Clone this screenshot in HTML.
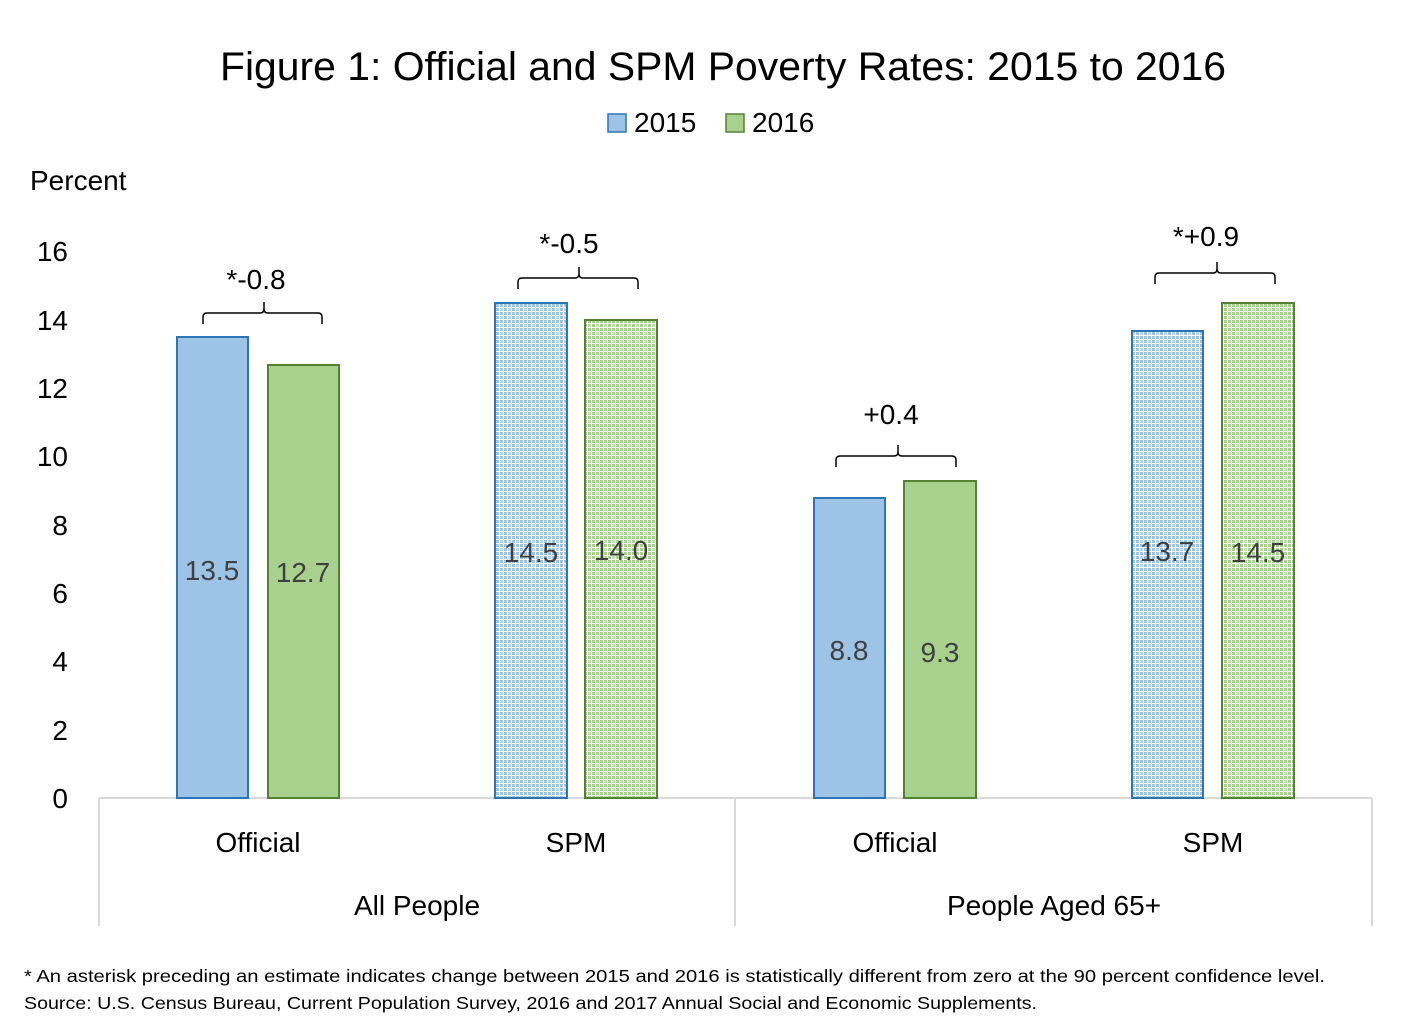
<!DOCTYPE html>
<html><head><meta charset="utf-8"><style>
body{margin:0;background:#fff;}
svg{display:block;font-family:"Liberation Sans","DejaVu Sans",sans-serif;}
</style></head><body>
<svg width="1422" height="1033" viewBox="0 0 1422 1033" xmlns="http://www.w3.org/2000/svg">
<defs>
<pattern id="pb" width="8" height="8" patternUnits="userSpaceOnUse">
<rect width="8" height="8" fill="#fff"/>
<rect x="0" y="0" width="3" height="3" fill="#9dc3e6"/>
<rect x="4" y="0" width="3" height="3" fill="#9dc3e6"/>
<rect x="0" y="4" width="3" height="3" fill="#9dc3e6"/>
<rect x="4" y="4" width="3" height="3" fill="#b8d4ee"/>
</pattern>
<pattern id="pg" width="8" height="8" patternUnits="userSpaceOnUse">
<rect width="8" height="8" fill="#fff"/>
<rect x="0" y="0" width="3" height="3" fill="#a9d18e"/>
<rect x="4" y="0" width="3" height="3" fill="#a9d18e"/>
<rect x="0" y="4" width="3" height="3" fill="#a9d18e"/>
<rect x="4" y="4" width="3" height="3" fill="#c2dfae"/>
</pattern>
</defs>
<text x="220" y="80" font-size="40" textLength="1006" lengthAdjust="spacingAndGlyphs" fill="#000">Figure 1: Official and SPM Poverty Rates: 2015 to 2016</text>
<rect x="608" y="114" width="18" height="18" fill="#9dc3e6" stroke="#2e75b6" stroke-width="1.5"/>
<text x="634" y="132" font-size="28">2015</text>
<rect x="726" y="114" width="18" height="18" fill="#a9d18e" stroke="#548235" stroke-width="1.5"/>
<text x="752" y="132" font-size="28">2016</text>
<text x="30" y="190" font-size="28">Percent</text>
<g font-size="28" text-anchor="end">
<text x="68" y="808">0</text><text x="68" y="740">2</text><text x="68" y="671">4</text><text x="68" y="603">6</text>
<text x="68" y="535">8</text><text x="68" y="466">10</text><text x="68" y="398">12</text><text x="68" y="330">14</text><text x="68" y="261">16</text>
</g>
<g stroke="#d9d9d9" stroke-width="2" fill="none">
<line x1="99" y1="798" x2="1372" y2="798"/>
<line x1="99" y1="798" x2="99" y2="926"/>
<line x1="735" y1="798" x2="735" y2="926"/>
<line x1="1372" y1="798" x2="1372" y2="926"/>
</g>
<g stroke-width="2">
<rect x="177" y="337" width="71" height="461" fill="#9dc3e6" stroke="#2e75b6"/>
<rect x="268" y="365" width="71" height="433" fill="#a9d18e" stroke="#548235"/>
<rect x="495" y="303" width="72" height="495" fill="url(#pb)" stroke="#2e75b6"/>
<rect x="585" y="320" width="72" height="478" fill="url(#pg)" stroke="#548235"/>
<rect x="814" y="498" width="71" height="300" fill="#9dc3e6" stroke="#2e75b6"/>
<rect x="904" y="481" width="72" height="317" fill="#a9d18e" stroke="#548235"/>
<rect x="1132" y="331" width="71" height="467" fill="url(#pb)" stroke="#2e75b6"/>
<rect x="1222" y="303" width="72" height="495" fill="url(#pg)" stroke="#548235"/>
</g>
<g font-size="28" text-anchor="middle" fill="#404040">
<text x="212" y="580">13.5</text><text x="303" y="582">12.7</text>
<text x="531" y="562">14.5</text><text x="621" y="560">14.0</text>
<text x="849" y="660">8.8</text><text x="940" y="662">9.3</text>
<text x="1167" y="561">13.7</text><text x="1258" y="562">14.5</text>
</g>
<g stroke="#000" stroke-width="1.5" fill="none">
<path d="M203 324 V317 Q203 313 207 313 H260 Q264 313 264 309 V302 M264 309 Q264 313 268 313 H318 Q322 313 322 317 V324"/>
<path d="M518 289 V282 Q518 278 522 278 H575 Q579 278 579 274 V267 M579 274 Q579 278 583 278 H634 Q638 278 638 282 V289"/>
<path d="M836 467 V460 Q836 456 840 456 H894 Q898 456 898 452 V445 M898 452 Q898 456 902 456 H952 Q956 456 956 460 V467"/>
<path d="M1155 284 V277 Q1155 273 1159 273 H1213 Q1217 273 1217 269 V262 M1217 269 Q1217 273 1221 273 H1271 Q1275 273 1275 277 V284"/>
</g>
<g font-size="28" text-anchor="middle">
<text x="256" y="289">*-0.8</text>
<text x="569" y="253">*-0.5</text>
<text x="891" y="424">+0.4</text>
<text x="1206" y="246">*+0.9</text>
</g>
<g font-size="28" text-anchor="middle">
<text x="258" y="852">Official</text><text x="576" y="852">SPM</text>
<text x="895" y="852">Official</text><text x="1213" y="852">SPM</text>
<text x="417" y="915">All People</text><text x="1054" y="915">People Aged 65+</text>
</g>
<g font-size="17.5">
<text x="24" y="982" textLength="1301" lengthAdjust="spacingAndGlyphs">* An asterisk preceding an estimate indicates change between 2015 and 2016 is statistically different from zero at the 90 percent confidence level.</text>
<text x="24" y="1009" textLength="1013" lengthAdjust="spacingAndGlyphs">Source: U.S. Census Bureau, Current Population Survey, 2016 and 2017 Annual Social and Economic Supplements.</text>
</g>
</svg>
</body></html>
